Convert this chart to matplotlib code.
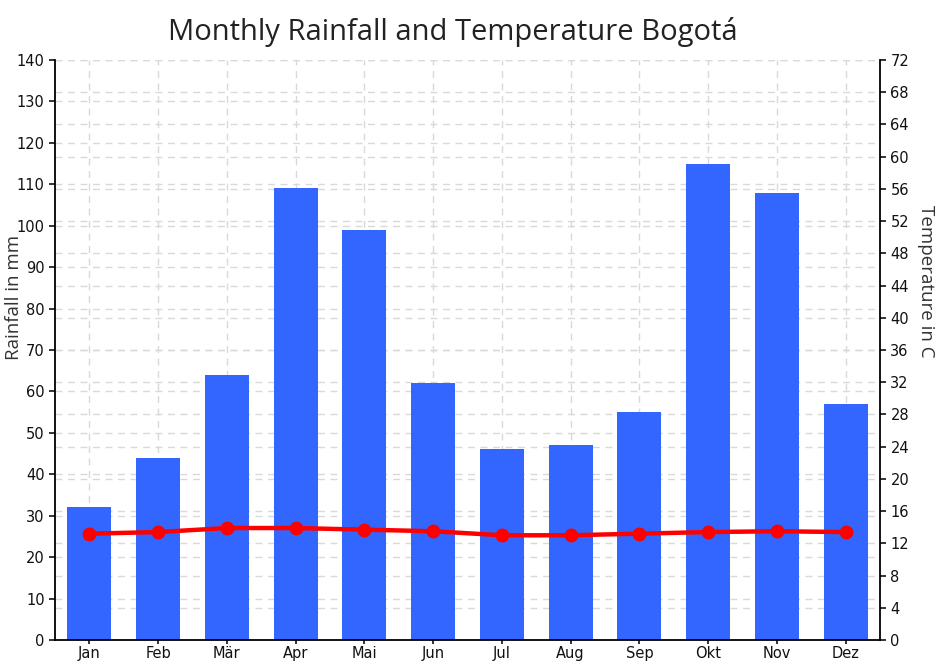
import matplotlib
matplotlib.use('Agg')
import matplotlib.pyplot as plt
import numpy as np

months = ['Jan', 'Feb', 'Mär', 'Apr', 'Mai', 'Jun', 'Jul', 'Aug', 'Sep', 'Okt', 'Nov', 'Dez']
rainfall = [32, 44, 64, 109, 99, 62, 46, 47, 55, 115, 108, 57]
temperature = [13.2, 13.4, 13.9, 13.9, 13.7, 13.5, 13.0, 13.0, 13.2, 13.4, 13.5, 13.4]

fig = plt.figure(figsize=(9.4, 6.63), dpi=100)
ax = fig.add_axes([55 / 940, 23 / 663, 825 / 940, 580 / 663])
ax2 = ax.twinx()

x = np.arange(len(months))
grid_style = dict(color='#d9d9d9', linestyle=(0, (5, 4)), linewidth=1)

ax.bar(x, rainfall, width=0.64, color='#3366ff', zorder=2)
ax.set_xlim(-0.5, len(months) - 0.5)
ax.set_ylim(0, 140)
ax.set_yticks(np.arange(0, 141, 10))
ax.set_xticks(x)
ax.set_xticklabels(months)
ax.grid(True, axis='both', **grid_style, zorder=0)
ax.set_axisbelow(True)

ax2.plot(x, temperature, color='#ff0000', linewidth=3.2, marker='o', markersize=9, zorder=5)
ax2.set_ylim(0, 72)
ax2.set_yticks(np.arange(0, 73, 4))

# grid lines of the right axis, drawn on the left axis so they stay behind the bars
ax.set_zorder(1)
ax2.set_zorder(2)
ax2.patch.set_visible(False)
ax2.grid(False)
for yv in np.arange(4, 73, 4):
    ax.axhline(yv * 140 / 72, **grid_style, zorder=0)

for a in (ax, ax2):
    a.spines['top'].set_visible(False)
    a.tick_params(labelsize=10.5, colors='#111111', length=4, width=1.2)
    for s in ('left', 'right', 'bottom'):
        a.spines[s].set_linewidth(1.3)
ax.spines['right'].set_visible(False)
ax2.spines['left'].set_visible(False)
ax2.spines['bottom'].set_visible(False)
ax.tick_params(axis='x', pad=1, length=3)

fig.text(14 / 940, 1 - 297 / 663, 'Rainfall in mm', rotation=90, ha='center', va='center',
         fontsize=13.5, family='Open Sans', color='#333333')
fig.text(926 / 940, 1 - 281 / 663, 'Temperature in C', rotation=270, ha='center', va='center',
         fontsize=13.5, family='Open Sans', color='#333333')
fig.text(453 / 940, 1 - 32 / 663, 'Monthly Rainfall and Temperature Bogotá',
         ha='center', va='center', fontsize=21, family='Open Sans', color='#222222')

fig.savefig('out.png', dpi=100)
